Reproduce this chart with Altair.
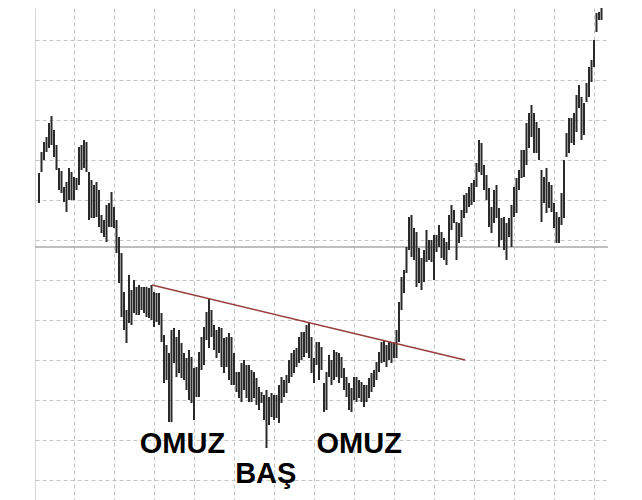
import altair as alt
import pandas as pd

# ---- price bars (high / low of each period) ----
highs = [347, 368, 378, 383, 397, 404, 390, 375, 352, 349, 333, 338, 352, 348, 343, 342,
         373, 375, 380, 378, 348, 340, 335, 338, 330, 305, 300, 315, 317, 328, 313, 300,
         283, 267, 228, 210, 245, 230, 240, 233, 235, 233, 233, 233, 232, 235, 228, 227,
         227, 207, 185, 175, 167, 190, 192, 183, 190, 177, 167, 162, 170, 163, 152, 153,
         168, 183, 193, 208, 222, 210, 195, 190, 193, 192, 182, 183, 187, 183, 167, 148,
         148, 157, 160, 155, 155, 150, 148, 142, 133, 128, 125, 130, 123, 127, 125, 125,
         135, 143, 140, 145, 160, 167, 170, 172, 183, 188, 188, 195, 197, 183, 162, 178,
         178, 173, 137, 148, 165, 160, 170, 168, 167, 163, 152, 143, 137, 132, 143, 143,
         140, 138, 135, 135, 142, 147, 150, 158, 168, 178, 180, 175, 178, 178, 178, 190,
         218, 243, 250, 273, 303, 305, 292, 288, 272, 262, 270, 290, 280, 280, 285, 285,
         295, 288, 282, 278, 305, 315, 310, 298, 297, 310, 325, 327, 333, 337, 340, 357,
         380, 377, 355, 345, 332, 313, 330, 335, 312, 302, 303, 297, 302, 315, 333, 342,
         350, 370, 370, 397, 407, 415, 407, 398, 392, 350, 343, 352, 338, 335, 317, 308,
         303, 327, 360, 387, 402, 402, 407, 425, 435, 423, 417, 437, 453, 460, 480, 507,
         508, 518, 545, 518]
lows = [317, 348, 360, 368, 372, 375, 363, 350, 330, 327, 318, 308, 320, 320, 320, 330,
        335, 350, 352, 348, 300, 302, 302, 303, 293, 287, 283, 278, 293, 293, 292, 267,
        237, 203, 190, 177, 197, 195, 207, 205, 205, 210, 207, 203, 202, 200, 193, 198,
        195, 178, 137, 140, 98, 98, 157, 143, 147, 142, 140, 130, 120, 117, 100, 123,
        123, 150, 155, 180, 172, 183, 170, 162, 167, 153, 147, 153, 140, 135, 135, 128,
        122, 118, 130, 122, 118, 118, 122, 115, 110, 117, 100, 72, 95, 103, 100, 102,
        97, 117, 123, 127, 137, 143, 147, 153, 157, 160, 163, 167, 162, 147, 137, 155,
        140, 150, 108, 110, 143, 135, 140, 143, 137, 142, 130, 123, 110, 108, 120, 118,
        122, 118, 113, 118, 122, 128, 133, 140, 148, 157, 158, 153, 160, 157, 162, 162,
        178, 210, 227, 247, 270, 263, 260, 233, 237, 230, 238, 258, 260, 258, 240, 268,
        273, 262, 260, 255, 270, 290, 297, 260, 277, 283, 302, 307, 313, 315, 318, 333,
        348, 345, 330, 320, 293, 287, 297, 302, 273, 280, 270, 260, 283, 273, 303, 307,
        330, 342, 343, 355, 372, 383, 367, 367, 360, 298, 317, 307, 312, 308, 292, 277,
        277, 295, 302, 363, 367, 377, 375, 388, 412, 380, 385, 418, 423, 438, 453, 488,
        500, 500, 525, 513]
bar_index = list(range(len(highs)))

# ---- neckline (two anchor points) ----
neck_index = [45.2, 170.4]
neck_price = [235, 160]

# ---- horizontal level line ----
level_price = [273]

# ---- pattern labels ----
label_text = ["OMUZ", "BAŞ", "OMUZ"]
label_index = [57.4, 90.7, 128.1]
label_price = [67, 37, 67]

# ---- grid positions ----
grid_x = list(range(14, 223, 16))
grid_y = list(range(40, 481, 40))

bars_df = pd.DataFrame({"i": bar_index, "high": highs, "low": lows})
neck_df = pd.DataFrame({"i": neck_index, "high": neck_price})
level_df = pd.DataFrame({"high": level_price})
label_df = pd.DataFrame({"i": label_index, "high": label_price, "t": label_text})

xscale = alt.Scale(domain=[-1.6, 227.6], nice=False, zero=False)
yscale = alt.Scale(domain=[20, 512], nice=False, zero=False)
xaxis = alt.Axis(values=grid_x, grid=True, gridDash=[4, 3], gridColor="#c4c4c4",
                 gridWidth=1, labels=False, ticks=False, domain=False, title=None)
yaxis = alt.Axis(values=grid_y, grid=True, gridDash=[4, 3], gridColor="#c4c4c4",
                 gridWidth=1, labels=False, ticks=False, domain=True,
                 domainColor="#d6d6d6", title=None)

level = alt.Chart(level_df).mark_rule(color="#a9a9a9", strokeWidth=1.3).encode(
    y=alt.Y("high:Q", scale=yscale, axis=yaxis),
)

bars = alt.Chart(bars_df).mark_rule(color="#2a2a2a", strokeWidth=2, clip=True).encode(
    x=alt.X("i:Q", scale=xscale, axis=xaxis),
    y=alt.Y("high:Q", scale=yscale, axis=yaxis),
    y2="low:Q",
)

neck = alt.Chart(neck_df).mark_line(color="#983c3c", strokeWidth=1.5).encode(
    x=alt.X("i:Q", scale=xscale, axis=xaxis),
    y=alt.Y("high:Q", scale=yscale, axis=yaxis),
)

labels = alt.Chart(label_df).mark_text(
    font="Liberation Sans", fontWeight="bold", fontSize=29, color="#000000",
    align="center", baseline="alphabetic",
).encode(
    x=alt.X("i:Q", scale=xscale, axis=xaxis),
    y=alt.Y("high:Q", scale=yscale, axis=yaxis),
    text="t:N",
)

chart = alt.layer(level, bars, neck, labels).properties(
    width=573, height=492,
    autosize=alt.AutoSizeParams(type="none"),
    padding={"left": 27, "top": 0, "right": 26, "bottom": 0},
    background="white",
).configure_view(stroke=None)

chart.save("out.html", embed_options={"renderer": "svg", "actions": False})
